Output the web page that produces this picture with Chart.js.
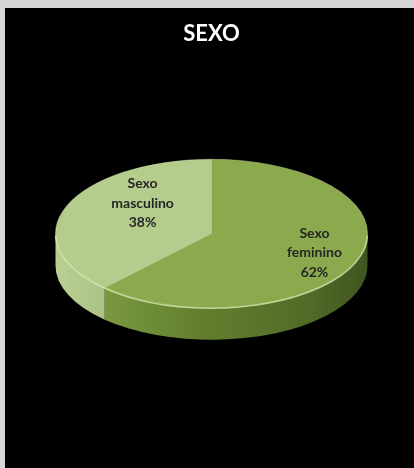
<!DOCTYPE html>
<html>
<head>
<meta charset="utf-8">
<script src="https://cdn.jsdelivr.net/npm/chart.js@4/dist/chart.umd.min.js"></script>
<style>
  html, body { margin: 0; padding: 0; width: 414px; height: 468px; overflow: hidden; background: #d6d6d6; }
  #frame { position: absolute; left: 5px; top: 8px; width: 409px; height: 460px; background: #000; }
  canvas { display: block; }
</style>
</head>
<body>
<div id="frame"><canvas id="chart" width="409" height="460"></canvas></div>
<script>
// Survey answers by sex, in percent
const categories = ['Sexo feminino', 'Sexo masculino'];
const labelLines = [['Sexo', 'feminino'], ['Sexo', 'masculino']];
const percentages = [62, 38];

// Slice styling
const topColors = ['#8aaa4d', '#b4cc8c'];
const sideStops = [
  [[0, '#86a64a'], [0.45, '#62802f'], [0.8, '#526c27'], [1, '#3f5520']],
  [[0, '#b9cf93'], [0.2, '#a8c080'], [1, '#a0b878']]
];

// Disk geometry: vertical squash of the top face and wall height in px
const TILT = 74.5 / 156.5;
const DEPTH = 32;

// Label anchors inside the disk: radius fraction and extra turn (degrees)
const labelAnchors = [{ r: 0.71, turn: 0 }, { r: 0.60, turn: 21 }];

const pie3d = {
  id: 'pie3d',
  beforeDatasetsDraw(chart) {
    const ctx = chart.ctx;
    const arcs = chart.getDatasetMeta(0).data;
    if (!arcs.length) return;
    const { x: cx, y: cy, outerRadius: r } = arcs[0].getProps(['x', 'y', 'outerRadius'], true);
    const ry = r * TILT;

    // walls: only the front half of the rim (0..PI) faces the viewer
    arcs.forEach((arc, i) => {
      const { startAngle, endAngle } = arc.getProps(['startAngle', 'endAngle'], true);
      for (let k = -1; k <= 1; k++) {
        const a1 = startAngle + k * 2 * Math.PI;
        const a2 = endAngle + k * 2 * Math.PI;
        const s = Math.max(a1, 0), e = Math.min(a2, Math.PI);
        if (e <= s) continue;
        const g = ctx.createLinearGradient(cx - r, 0, cx + r, 0);
        sideStops[i].forEach(([p, c]) => g.addColorStop(p, c));
        ctx.save();
        ctx.beginPath();
        ctx.ellipse(cx, cy, r, ry, 0, s, e, false);
        ctx.ellipse(cx, cy + DEPTH, r, ry, 0, e, s, true);
        ctx.closePath();
        ctx.fillStyle = g;
        ctx.fill();
        ctx.restore();
      }
    });

    // squash the flat pie into the top face of the disk
    ctx.save();
    ctx.translate(cx, cy);
    ctx.scale(1, TILT);
    ctx.translate(-cx, -cy);
  },
  afterDatasetsDraw(chart) {
    const ctx = chart.ctx;
    const arcs = chart.getDatasetMeta(0).data;
    if (!arcs.length) return;
    ctx.restore();
    const { x: cx, y: cy, outerRadius: r } = arcs[0].getProps(['x', 'y', 'outerRadius'], true);
    const ry = r * TILT;

    // soft highlight along the front edge of the top face
    ctx.save();
    ctx.beginPath();
    ctx.ellipse(cx, cy + 0.5, r, ry, 0, 0.02, Math.PI - 0.02, false);
    ctx.strokeStyle = 'rgba(222, 238, 178, 0.75)';
    ctx.lineWidth = 1.5;
    ctx.stroke();
    ctx.restore();

    // slice labels: name and share
    ctx.save();
    ctx.font = 'bold 14px Lato, "Open Sans", sans-serif';
    ctx.fillStyle = '#262626';
    ctx.textAlign = 'center';
    ctx.textBaseline = 'middle';
    arcs.forEach((arc, i) => {
      const { startAngle, endAngle } = arc.getProps(['startAngle', 'endAngle'], true);
      const a = (startAngle + endAngle) / 2 + labelAnchors[i].turn * Math.PI / 180;
      const rr = r * labelAnchors[i].r;
      const x = cx + rr * Math.cos(a);
      const y = cy + rr * Math.sin(a) * TILT;
      const lines = labelLines[i].concat([percentages[i] + '%']);
      const lh = 19.5;
      lines.forEach((t, j) => {
        ctx.fillText(t, x, y + (j - (lines.length - 1) / 2) * lh);
      });
    });
    ctx.restore();
  }
};

new Chart(document.getElementById('chart'), {
  type: 'pie',
  data: {
    labels: categories,
    datasets: [{
      data: percentages,
      backgroundColor: topColors,
      borderColor: 'rgba(214, 230, 176, 0.55)',
      borderWidth: 1,
      clip: false
    }]
  },
  options: {
    responsive: false,
    devicePixelRatio: 1,
    animation: false,
    events: [],
    layout: { padding: { left: 50, right: 46, top: 0, bottom: 58.4 } },
    plugins: {
      legend: { display: false },
      tooltip: { enabled: false },
      title: {
        display: true,
        text: 'SEXO',
        color: '#ffffff',
        font: { family: 'Lato', size: 22, weight: 'bold' },
        padding: { top: 13, bottom: 10 }
      }
    }
  },
  plugins: [pie3d]
});
</script>
</body>
</html>
